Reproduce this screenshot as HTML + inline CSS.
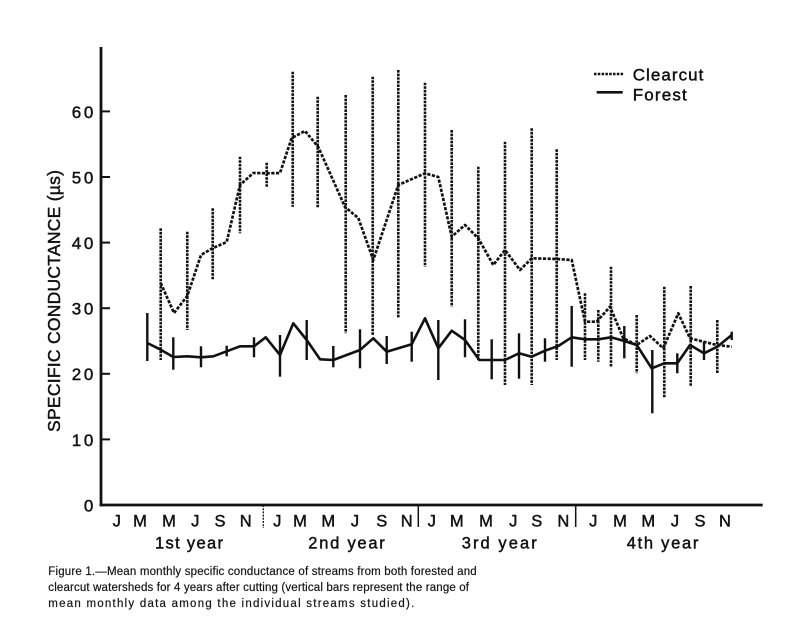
<!DOCTYPE html>
<html>
<head>
<meta charset="utf-8">
<style>
  html, body { margin: 0; padding: 0; background: #fff; }
  svg { display: block; }
  text { font-family: "Liberation Sans", Arial, Helvetica, sans-serif; fill: #111; }
  .ax { stroke: #111; stroke-width: 0.45px; }
  .cap { stroke: #222; stroke-width: 0.2px; }
</style>
</head>
<body>
<svg width="808" height="623" viewBox="0 0 808 623" xmlns="http://www.w3.org/2000/svg">
  <rect x="0" y="0" width="808" height="623" fill="#fff"/>

  <!-- Axes -->
  <line x1="101" y1="47" x2="101" y2="506.3" stroke="#111" stroke-width="2.8"/>
  <line x1="99.6" y1="505" x2="762.7" y2="505" stroke="#111" stroke-width="2.8"/>

  <!-- Y ticks (inside) -->
  <g stroke="#111" stroke-width="2">
    <line x1="101" y1="439.4" x2="110" y2="439.4"/>
    <line x1="101" y1="373.8" x2="110" y2="373.8"/>
    <line x1="101" y1="308.2" x2="110" y2="308.2"/>
    <line x1="101" y1="242.6" x2="110" y2="242.6"/>
    <line x1="101" y1="177" x2="110" y2="177"/>
    <line x1="101" y1="111.4" x2="110" y2="111.4"/>
  </g>

  <!-- Y tick labels -->
  <g font-size="17" text-anchor="end" class="ax">
    <text x="93.3" y="511.5">0</text>
    <text x="93.3" y="445.8" textLength="21.5" lengthAdjust="spacing">10</text>
    <text x="93.3" y="380.2" textLength="21.5" lengthAdjust="spacing">20</text>
    <text x="93.3" y="314.6" textLength="21.5" lengthAdjust="spacing">30</text>
    <text x="93.3" y="249" textLength="21.5" lengthAdjust="spacing">40</text>
    <text x="93.3" y="183.4" textLength="21.5" lengthAdjust="spacing">50</text>
    <text x="93.3" y="117.8" textLength="21.5" lengthAdjust="spacing">60</text>
  </g>

  <!-- Y axis title -->
  <text class="ax" transform="translate(60,301) rotate(-90)" font-size="17.5" text-anchor="middle" textLength="262" lengthAdjust="spacing">SPECIFIC CONDUCTANCE (µs)</text>

  <!-- Year dividers -->
  <line x1="263.3" y1="505" x2="263.3" y2="528" stroke="#111" stroke-width="1.3" stroke-dasharray="2,1.2"/>
  <line x1="418.3" y1="505" x2="418.3" y2="527" stroke="#111" stroke-width="1.5"/>
  <line x1="575.7" y1="505" x2="575.7" y2="527" stroke="#111" stroke-width="1.5"/>

  <!-- Month labels -->
  <g font-size="16.5" text-anchor="middle" class="ax">
    <text x="116.7" y="526.5">J</text><text x="140" y="526.5">M</text><text x="169" y="526.5">M</text>
    <text x="195.3" y="526.5">J</text><text x="220" y="526.5">S</text><text x="245.7" y="526.5">N</text>
    <text x="277.3" y="526.5">J</text><text x="300" y="526.5">M</text><text x="328.3" y="526.5">M</text>
    <text x="355" y="526.5">J</text><text x="381.7" y="526.5">S</text><text x="406.7" y="526.5">N</text>
    <text x="431.7" y="526.5">J</text><text x="456.7" y="526.5">M</text><text x="486" y="526.5">M</text>
    <text x="513.3" y="526.5">J</text><text x="536.7" y="526.5">S</text><text x="563.3" y="526.5">N</text>
    <text x="593.3" y="526.5">J</text><text x="620" y="526.5">M</text><text x="648.3" y="526.5">M</text>
    <text x="675" y="526.5">J</text><text x="700" y="526.5">S</text><text x="725" y="526.5">N</text>
  </g>

  <!-- Year labels -->
  <g font-size="16.5" class="ax">
    <text x="155" y="548.5" textLength="68" lengthAdjust="spacing">1st year</text>
    <text x="308.3" y="548.5" textLength="76.5" lengthAdjust="spacing">2nd year</text>
    <text x="461.7" y="548.5" textLength="75" lengthAdjust="spacing">3rd year</text>
    <text x="626.7" y="548.5" textLength="71.7" lengthAdjust="spacing">4th year</text>
  </g>

  <!-- Clearcut range bars (dashed) -->
  <g stroke="#111" stroke-width="2.6" stroke-dasharray="2.6,1" fill="none">
    <line x1="160.7" y1="228.3" x2="160.7" y2="360"/>
    <line x1="187.3" y1="231.7" x2="187.3" y2="330"/>
    <line x1="212.7" y1="208.3" x2="212.7" y2="280"/>
    <line x1="240" y1="156.7" x2="240" y2="233.3"/>
    <line x1="266.7" y1="162.7" x2="266.7" y2="186.7"/>
    <line x1="292.7" y1="71.7" x2="292.7" y2="206.7"/>
    <line x1="317.7" y1="96.7" x2="317.7" y2="208.3"/>
    <line x1="345.7" y1="95" x2="345.7" y2="333.3"/>
    <line x1="372.7" y1="76.7" x2="372.7" y2="335"/>
    <line x1="398.3" y1="70" x2="398.3" y2="318.3"/>
    <line x1="425" y1="82.7" x2="425" y2="266.7"/>
    <line x1="451.7" y1="130" x2="451.7" y2="306.7"/>
    <line x1="478.3" y1="166.7" x2="478.3" y2="361"/>
    <line x1="505" y1="141.7" x2="505" y2="385"/>
    <line x1="531.7" y1="128.3" x2="531.7" y2="385"/>
    <line x1="556.7" y1="149.3" x2="556.7" y2="360"/>
    <line x1="585" y1="293.3" x2="585" y2="360"/>
    <line x1="598.3" y1="310" x2="598.3" y2="361.7"/>
    <line x1="611" y1="266.7" x2="611" y2="366.7"/>
    <line x1="636.7" y1="315" x2="636.7" y2="373.3"/>
    <line x1="664.3" y1="286.7" x2="664.3" y2="398.3"/>
    <line x1="690.7" y1="286" x2="690.7" y2="386.7"/>
    <line x1="717.3" y1="320" x2="717.3" y2="373.3"/>
  </g>

  <!-- Forest range bars (solid) -->
  <g stroke="#111" stroke-width="2.4" fill="none">
    <line x1="147.3" y1="313" x2="147.3" y2="361"/>
    <line x1="173.3" y1="337.3" x2="173.3" y2="369.7"/>
    <line x1="201" y1="346.3" x2="201" y2="367.3"/>
    <line x1="226.7" y1="345.7" x2="226.7" y2="356.3"/>
    <line x1="254" y1="337.3" x2="254" y2="357.3"/>
    <line x1="280" y1="335" x2="280" y2="376.7"/>
    <line x1="306.7" y1="320" x2="306.7" y2="360"/>
    <line x1="333.3" y1="346" x2="333.3" y2="367.3"/>
    <line x1="360" y1="329.3" x2="360" y2="368.3"/>
    <line x1="386.7" y1="336" x2="386.7" y2="364"/>
    <line x1="411.7" y1="331.7" x2="411.7" y2="361.7"/>
    <line x1="438.3" y1="320" x2="438.3" y2="380"/>
    <line x1="465" y1="319.3" x2="465" y2="357.3"/>
    <line x1="491.7" y1="339.3" x2="491.7" y2="379.3"/>
    <line x1="519" y1="333.3" x2="519" y2="378.7"/>
    <line x1="545" y1="338.3" x2="545" y2="361.7"/>
    <line x1="571.7" y1="306" x2="571.7" y2="366.7"/>
    <line x1="624.3" y1="326" x2="624.3" y2="358.3"/>
    <line x1="652.3" y1="350" x2="652.3" y2="413.3"/>
    <line x1="677.3" y1="353.3" x2="677.3" y2="373.3"/>
    <line x1="704" y1="341.7" x2="704" y2="360"/>
    <line x1="731.7" y1="331.7" x2="731.7" y2="340"/>
  </g>

  <!-- Clearcut mean line (dashed) -->
  <polyline fill="none" stroke="#111" stroke-width="2.7" stroke-dasharray="3.2,1.5" stroke-linejoin="round"
    points="160.7,283 174,313 187.3,296 201,255 213,248 226.7,242 240,185 253.3,173 266.7,173.3 280,173 291.7,138 305,131 318.3,147 345,207 358.3,218 373.3,260 398.3,185 425,173.3 438.3,177 451.7,236.7 465,225 478.3,238.3 493.3,265 505,250 520,270 531.7,258.3 556.7,259 571.7,260 585,321.7 596.7,321.7 610,306.7 623.3,338.3 636.7,345 650,336 663.3,348.3 678.3,313.3 690,338.3 703.3,341.7 716.7,345 731.7,346.7"/>

  <!-- Forest mean line (solid) -->
  <polyline fill="none" stroke="#111" stroke-width="2.6" stroke-linejoin="round"
    points="147.3,343 160.7,349.7 173.3,357 187.3,356.3 201,357.3 213.3,356.3 226.7,351.3 240,346.3 254,346.3 265.7,337.3 280,355 293.3,323.3 306.7,340 320,359.3 333.3,360 360,350 373.3,338.3 386.7,351.7 411.7,344.3 425,318.3 438.3,348.3 451.7,330.7 465,340 479.3,360 491.7,360 505,360 519,353.3 531.7,356.7 545,350.7 558.3,346 571.7,337.3 585,339.3 598.3,339.3 611,337.3 623.3,340.7 636.7,345 651.7,368.3 664.3,363.3 677.3,363.3 690,345 704,353.3 717.3,346.7 731.7,335"/>

  <!-- Legend -->
  <line x1="594" y1="74" x2="624" y2="74" stroke="#111" stroke-width="2.4" stroke-dasharray="2.5,1.3"/>
  <line x1="596.7" y1="92.3" x2="622.7" y2="92.3" stroke="#111" stroke-width="2.6"/>
  <text class="ax" x="632.7" y="80.7" font-size="17" textLength="70.7" lengthAdjust="spacing">Clearcut</text>
  <text class="ax" x="632.7" y="100.7" font-size="17" textLength="54" lengthAdjust="spacing">Forest</text>

  <!-- Caption -->
  <g font-size="11.5" fill="#222" class="cap">
    <text x="48.3" y="575" textLength="428.4" lengthAdjust="spacing">Figure 1.—Mean monthly specific conductance of streams from both forested and</text>
    <text x="48.3" y="591" textLength="420.7" lengthAdjust="spacing">clearcut watersheds for 4 years after cutting (vertical bars represent the range of</text>
    <text x="48.3" y="607" textLength="366" lengthAdjust="spacing">mean monthly data among the individual streams studied).</text>
  </g>
</svg>
</body>
</html>
